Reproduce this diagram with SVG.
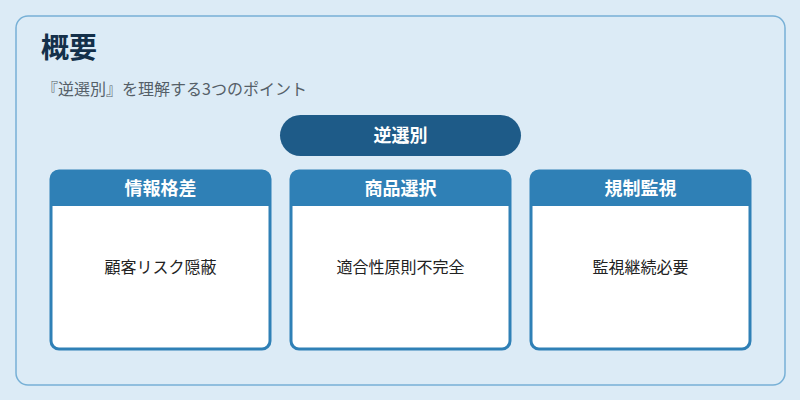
<svg xmlns="http://www.w3.org/2000/svg" width="800" height="400" viewBox="0 0 800 400">
<style>
text{font-family:"Noto Sans CJK JP","Noto Sans",sans-serif}
.card{fill:#fff;stroke:#2f80b6;stroke-width:3}
.hd{fill:#2f80b6}
.ht{fill:#fff;font-size:18px;font-weight:bold;text-anchor:middle}
.bt{fill:#222;font-size:16px;text-anchor:middle}
</style>
<rect width="800" height="400" fill="#dcebf6"/>
<rect x="16" y="16" width="769" height="369" rx="12" fill="#dcebf6" stroke="#77b0d6" stroke-width="1.5"/>
<text x="41" y="58" font-size="28" font-weight="bold" fill="#14304a">概要</text>
<text x="42" y="95" font-size="16" fill="#555f68">『逆選別』を理解する3つのポイント</text>
<g id="main"><rect x="280" y="115" width="241" height="41" rx="20.5" fill="#1e5b88"/><text x="400.5" y="142" font-size="18" font-weight="bold" fill="#fff" text-anchor="middle">逆選別</text></g>
<g id="n1"><rect class="card" x="51" y="171" width="219" height="178" rx="8"/><path class="hd" d="M51 206V179a8 8 0 0 1 8-8h203a8 8 0 0 1 8 8v27z"/><text class="ht" x="160.5" y="195">情報格差</text><text class="bt" x="160.5" y="273">顧客リスク隠蔽</text></g>
<g id="n2"><rect class="card" x="291" y="171" width="219" height="178" rx="8"/><path class="hd" d="M291 206V179a8 8 0 0 1 8-8h203a8 8 0 0 1 8 8v27z"/><text class="ht" x="400.5" y="195">商品選択</text><text class="bt" x="400.5" y="273">適合性原則不完全</text></g>
<g id="n3"><rect class="card" x="531" y="171" width="219" height="178" rx="8"/><path class="hd" d="M531 206V179a8 8 0 0 1 8-8h203a8 8 0 0 1 8 8v27z"/><text class="ht" x="640.5" y="195">規制監視</text><text class="bt" x="640.5" y="273">監視継続必要</text></g>
<g id="connectors"></g>
</svg>
